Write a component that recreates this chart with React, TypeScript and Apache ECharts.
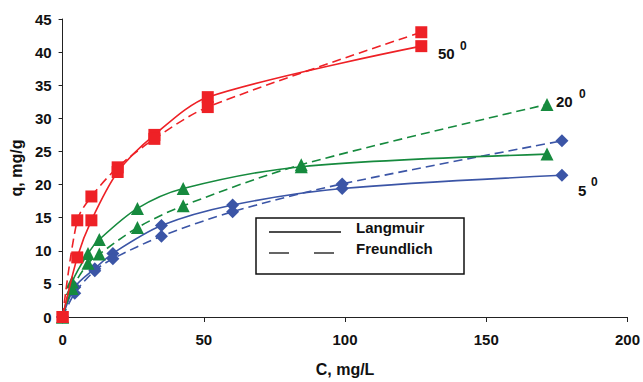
import React, { useEffect, useRef } from "react";
import * as echarts from "echarts";

// 50 degrees (red squares)
const redX = [0, 5.2, 10.2, 19.5, 32.5, 51.4, 127];
const redLangmuir = [0, 9.0, 14.6, 21.9, 27.5, 33.2, 40.9];
const redFreundlich = [0, 14.6, 18.2, 22.6, 26.9, 31.7, 43.0];

// 20 degrees (green triangles)
const greenX = [0, 3.4, 9.0, 13.0, 26.5, 42.7, 84.5, 171.5];
const greenLangmuir = [0, 5.3, 9.6, 11.7, 16.4, 19.4, 22.7, 24.6];
const greenFreundlich = [0, 4.3, 8.1, 9.5, 13.5, 16.8, 23.0, 32.1];

// 5 degrees (blue diamonds)
const blueX = [0, 4.3, 11.4, 17.8, 35, 60.2, 99, 176.8];
const blueLangmuir = [0, 4.5, 7.3, 9.6, 13.8, 16.9, 19.4, 21.4];
const blueFreundlich = [0, 3.6, 7.0, 8.8, 12.2, 15.9, 20.1, 26.6];

const xTicks = { min: 0, max: 200, interval: 50 };
const yTicks = { min: 0, max: 45, interval: 5 };

const FONT = "'Liberation Sans', Arial, sans-serif";
const RED = "#ee2126";
const GREEN = "#168a3e";
const BLUE = "#3b55a6";

const pairs = (xs: number[], ys: number[]) => xs.map((x, i) => [x, ys[i]]);

function mkSeries(name: string, xs: number[], ys: number[], color: string, symbol: string, size: number, dashed: boolean, z: number) {
  return {
    name,
    type: "line",
    data: pairs(xs, ys),
    smooth: 0.3,
    symbol,
    symbolSize: size,
    showAllSymbol: true,
    z,
    itemStyle: { color },
    lineStyle: { color, width: 1.6, type: dashed ? [9, 5] : "solid" },
  };
}

export default function App() {
  const ref = useRef<HTMLDivElement>(null);
  useEffect(() => {
    if (!ref.current) return;
    const chart = echarts.init(ref.current, undefined, { renderer: "svg" });
    const labelStyle = { fontFamily: FONT, fontWeight: "bold", fontSize: 15, fill: "#111" };
    const legendText = { fontFamily: FONT, fontWeight: "bold", fontSize: 15, fill: "#111" };
    chart.setOption({
      animation: false,
      backgroundColor: "#fff",
      grid: { left: 61, right: 14, top: 19, bottom: 59, containLabel: false },
      xAxis: {
        type: "value",
        ...xTicks,
        name: "C, mg/L",
        nameLocation: "middle",
        nameGap: 44,
        nameTextStyle: { fontFamily: FONT, fontWeight: "bold", fontSize: 16, color: "#111" },
        axisLine: { lineStyle: { color: "#222", width: 1 } },
        axisTick: { show: true, length: 5, lineStyle: { color: "#222" } },
        axisLabel: { fontFamily: FONT, fontWeight: "bold", fontSize: 15, color: "#111", margin: 15 },
        splitLine: { show: false },
      },
      yAxis: {
        type: "value",
        ...yTicks,
        name: "q, mg/g",
        nameLocation: "middle",
        nameRotate: 90,
        nameGap: 38,
        nameTextStyle: { fontFamily: FONT, fontWeight: "bold", fontSize: 16, color: "#111" },
        axisLine: { show: true, lineStyle: { color: "#222", width: 1 } },
        axisTick: { show: true, length: 4, lineStyle: { color: "#222" } },
        axisLabel: { fontFamily: FONT, fontWeight: "bold", fontSize: 15, color: "#111", margin: 11 },
        splitLine: { show: false },
      },
      series: [
        mkSeries("5 Langmuir", blueX, blueLangmuir, BLUE, "diamond", 13, false, 2),
        mkSeries("5 Freundlich", blueX, blueFreundlich, BLUE, "diamond", 13, true, 2),
        mkSeries("20 Langmuir", greenX, greenLangmuir, GREEN, "triangle", 13, false, 3),
        mkSeries("20 Freundlich", greenX, greenFreundlich, GREEN, "triangle", 13, true, 3),
        mkSeries("50 Langmuir", redX, redLangmuir, RED, "rect", 12, false, 4),
        mkSeries("50 Freundlich", redX, redFreundlich, RED, "rect", 12, true, 4),
      ],
      graphic: [
        { type: "text", x: 438, y: 46, style: { ...labelStyle, text: "50" } },
        { type: "text", x: 460, y: 40, style: { ...labelStyle, fontSize: 12, text: "0" } },
        { type: "text", x: 556, y: 94, style: { ...labelStyle, text: "20" } },
        { type: "text", x: 579, y: 88, style: { ...labelStyle, fontSize: 12, text: "0" } },
        { type: "text", x: 578, y: 183, style: { ...labelStyle, text: "5" } },
        { type: "text", x: 591, y: 176, style: { ...labelStyle, fontSize: 12, text: "0" } },
        {
          type: "rect",
          shape: { x: 256, y: 218, width: 208, height: 56 },
          style: { fill: "#fff", stroke: "#111", lineWidth: 1.5 },
          z: 10,
        },
        { type: "line", shape: { x1: 269, y1: 232, x2: 341, y2: 232 }, style: { stroke: "#111", lineWidth: 1.3 }, z: 11 },
        { type: "line", shape: { x1: 269, y1: 253, x2: 289, y2: 253 }, style: { stroke: "#111", lineWidth: 1.3 }, z: 11 },
        { type: "line", shape: { x1: 314, y1: 253, x2: 334, y2: 253 }, style: { stroke: "#111", lineWidth: 1.3 }, z: 11 },
        { type: "text", x: 356, y: 220, z: 11, style: { ...legendText, text: "Langmuir" } },
        { type: "text", x: 356, y: 241, z: 11, style: { ...legendText, text: "Freundlich" } },
      ],
    });
    return () => chart.dispose();
  }, []);
  return <div ref={ref} style={{ width: 643, height: 382, position: "absolute", left: 0, top: 0 }} />;
}
